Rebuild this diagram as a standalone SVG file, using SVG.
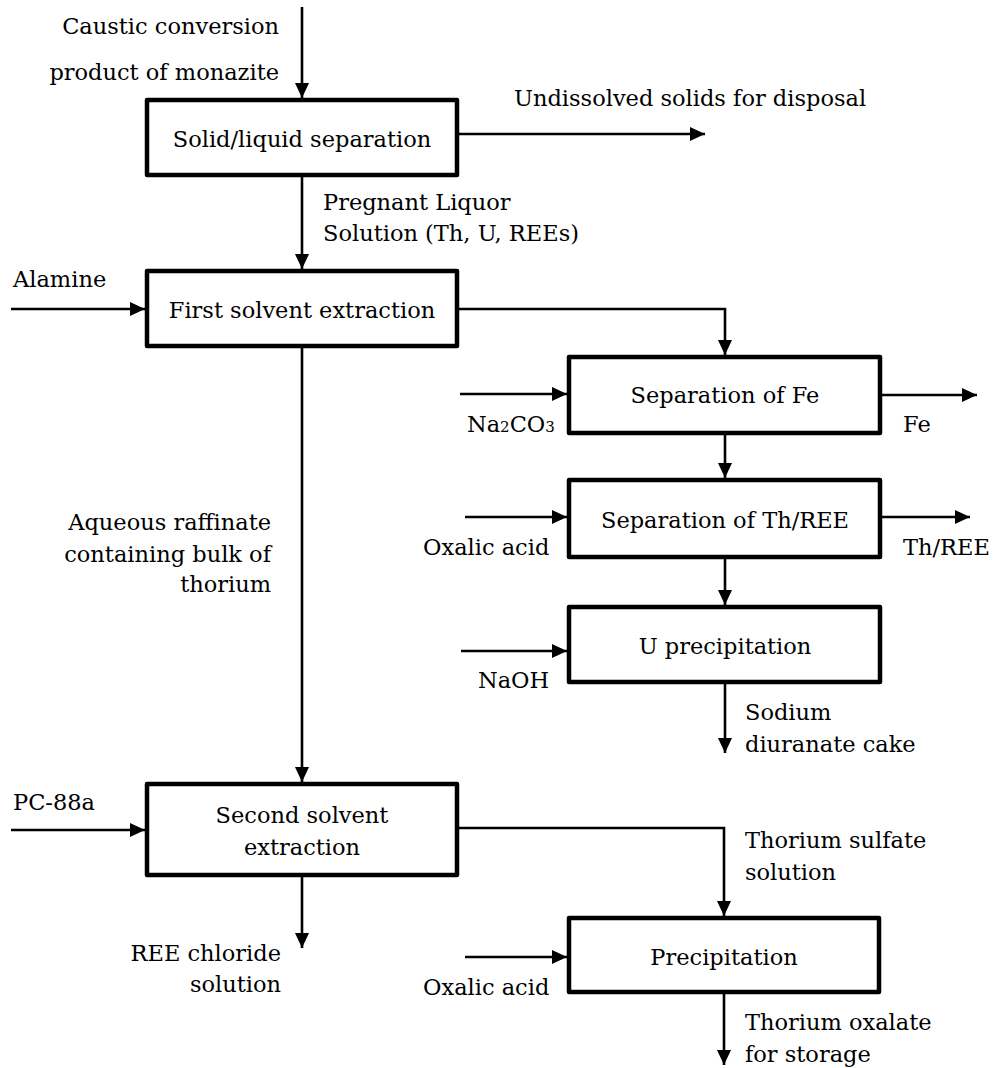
<svg xmlns="http://www.w3.org/2000/svg" width="994" height="1068" viewBox="0 0 994 1068">
<style>
  .box { fill: #fff; stroke: #000; stroke-width: 4.5; stroke-linejoin: round; }
  .ln { fill: none; stroke: #000; stroke-width: 2.6; }
  .ar { marker-end: url(#ah); }
  text { font-family: "DejaVu Serif", "Liberation Serif", serif; font-size: 22.5px; fill: #000; }
  .c { text-anchor: middle; }
  .r { text-anchor: end; }
  .sub { font-size: 15px; }
</style>
<defs>
  <marker id="ah" markerUnits="userSpaceOnUse" markerWidth="16" markerHeight="15" refX="15" refY="7" orient="auto">
    <path d="M0,0 L15,7 L0,14 z" fill="#000"/>
  </marker>
</defs>
<rect width="994" height="1068" fill="#fff"/>

<g id="connectors">
  <line class="ln ar" x1="302" y1="7" x2="302" y2="98"/>
  <line class="ln ar" x1="459" y1="134" x2="705" y2="134"/>
  <line class="ln ar" x1="302" y1="177" x2="302" y2="269"/>
  <line class="ln ar" x1="11" y1="309" x2="145" y2="309"/>
  <polyline class="ln ar" points="459,309 725,309 725,355"/>
  <line class="ln ar" x1="460" y1="394" x2="567" y2="394"/>
  <line class="ln ar" x1="882" y1="395" x2="977" y2="395"/>
  <line class="ln ar" x1="725" y1="435" x2="725" y2="478"/>
  <line class="ln ar" x1="465" y1="517" x2="567" y2="517"/>
  <line class="ln ar" x1="882" y1="517" x2="970" y2="517"/>
  <line class="ln ar" x1="725" y1="559" x2="725" y2="605"/>
  <line class="ln ar" x1="461" y1="651" x2="567" y2="651"/>
  <line class="ln ar" x1="725" y1="684" x2="725" y2="753"/>
  <line class="ln ar" x1="302" y1="348" x2="302" y2="782"/>
  <line class="ln ar" x1="11" y1="830" x2="145" y2="830"/>
  <polyline class="ln ar" points="459,828 724,828 724,916"/>
  <line class="ln ar" x1="302" y1="877" x2="302" y2="948"/>
  <line class="ln ar" x1="465" y1="957" x2="567" y2="957"/>
  <line class="ln ar" x1="724" y1="994" x2="724" y2="1065"/>
</g>

<g id="labels">
  <text class="r" x="279" y="34">Caustic conversion</text>
  <text class="r" x="279" y="80">product of monazite</text>
  <text x="514" y="106">Undissolved solids for disposal</text>
  <text x="323" y="210">Pregnant Liquor</text>
  <text x="323" y="241">Solution (Th, U, REEs)</text>
  <text x="13" y="287">Alamine</text>
  <text x="467" y="432">Na<tspan class="sub">2</tspan>CO<tspan class="sub">3</tspan></text>
  <text x="903" y="432">Fe</text>
  <text x="423" y="555">Oxalic acid</text>
  <text x="903" y="555">Th/REE</text>
  <text x="478" y="688">NaOH</text>
  <text x="745" y="720">Sodium</text>
  <text x="745" y="752">diuranate cake</text>
  <text class="r" x="271" y="530">Aqueous raffinate</text>
  <text class="r" x="271" y="562">containing bulk of</text>
  <text class="r" x="271" y="592">thorium</text>
  <text x="13" y="810">PC-88a</text>
  <text x="745" y="848">Thorium sulfate</text>
  <text x="745" y="880">solution</text>
  <text class="r" x="281" y="961">REE chloride</text>
  <text class="r" x="281" y="992">solution</text>
  <text x="423" y="995">Oxalic acid</text>
  <text x="745" y="1030">Thorium oxalate</text>
  <text x="745" y="1062">for storage</text>
</g>

<g id="node-solid-liquid">
  <rect class="box" x="147" y="100" width="310" height="75"/>
  <text class="c" x="302" y="147">Solid/liquid separation</text>
</g>
<g id="node-first-sx">
  <rect class="box" x="147" y="271" width="310" height="75"/>
  <text class="c" x="302" y="318">First solvent extraction</text>
</g>
<g id="node-sep-fe">
  <rect class="box" x="569" y="357" width="311" height="76"/>
  <text class="c" x="725" y="403">Separation of Fe</text>
</g>
<g id="node-sep-th-ree">
  <rect class="box" x="569" y="480" width="311" height="77"/>
  <text class="c" x="725" y="528">Separation of Th/REE</text>
</g>
<g id="node-u-precip">
  <rect class="box" x="569" y="607" width="311" height="75"/>
  <text class="c" x="725" y="654">U precipitation</text>
</g>
<g id="node-second-sx">
  <rect class="box" x="147" y="784" width="310" height="91"/>
  <text class="c" x="302" y="823">Second solvent</text>
  <text class="c" x="302" y="855">extraction</text>
</g>
<g id="node-precip">
  <rect class="box" x="569" y="918" width="310" height="74"/>
  <text class="c" x="724" y="965">Precipitation</text>
</g>
</svg>
